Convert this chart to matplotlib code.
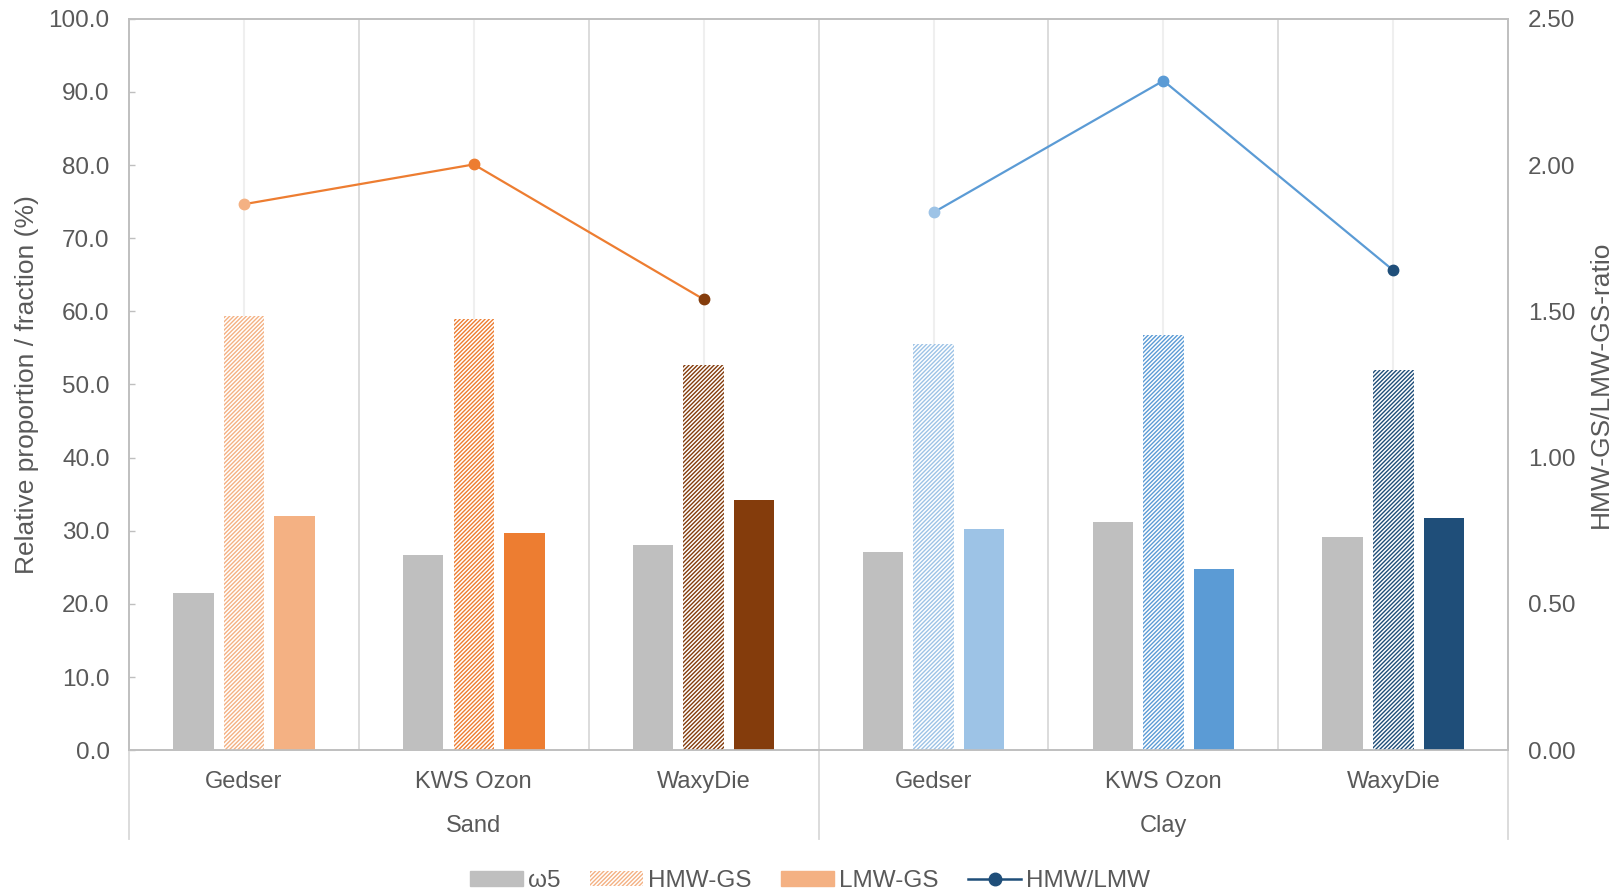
import matplotlib
matplotlib.use('Agg')
import matplotlib.pyplot as plt
from matplotlib.patches import Patch
from matplotlib.lines import Line2D
import matplotlib.transforms as mtransforms

plt.rcParams['font.family'] = ['Liberation Sans', 'DejaVu Sans']
plt.rcParams['hatch.linewidth'] = 1.0

# soil / cultivar data
soils = ['Sand', 'Clay']
cultivars = ['Gedser', 'KWS Ozon', 'WaxyDie']
omega5 = [21.5, 26.7, 28.1, 27.1, 31.2, 29.1]
hmw_gs = [59.4, 59.0, 52.6, 55.6, 56.8, 52.0]
lmw_gs = [32.0, 29.7, 34.2, 30.3, 24.8, 31.8]
ratio = [1.866, 2.002, 1.541, 1.838, 2.288, 1.640]

shades = ['#F4B183', '#ED7D31', '#843C0C', '#9DC3E6', '#5B9BD5', '#1F4E79']
line_cols = ['#ED7D31', '#5B9BD5']
grey = '#BFBFBF'
txt = '#595959'
hatch = '////////'

fig = plt.figure(figsize=(16.2, 8.91), dpi=100)
ax = fig.add_axes([0.0796, 0.158, 0.8514, 0.821])
ax2 = ax.twinx()

x = list(range(len(omega5)))
w, off = 0.176, 0.22
for i in x:
    ax.bar(i - off, omega5[i], w, color=grey, zorder=3)
    ax.bar(i, hmw_gs[i], w, facecolor='white', edgecolor=shades[i],
           hatch=hatch, linewidth=0, zorder=3)
    ax.bar(i + off, lmw_gs[i], w, color=shades[i], zorder=3)

for g in range(2):
    idx = list(range(g * 3, g * 3 + 3))
    ax2.plot(idx, [ratio[k] for k in idx], color=line_cols[g], lw=1.6, zorder=4)
    for k in idx:
        ax2.plot(k, ratio[k], 'o', ms=7.5, color=shades[k], zorder=5)

ax.set_xlim(-0.5, 5.5)
ax.set_ylim(0, 100)
ax2.set_ylim(0, 2.5)
ax.set_yticks(range(0, 101, 10))
ax.set_yticklabels([f'{v:.1f}' for v in range(0, 101, 10)])
ax2.set_yticks([0, 0.5, 1.0, 1.5, 2.0, 2.5])
ax2.set_yticklabels([f'{v:.2f}' for v in [0, 0.5, 1.0, 1.5, 2.0, 2.5]])
ax.set_xticks([])

ax.tick_params(axis='y', direction='in', length=4, width=1, color=grey,
               labelsize=17.5, labelcolor=txt, pad=14)
ax2.tick_params(axis='y', length=0, labelsize=17.5, labelcolor=txt, pad=14)
for a in (ax, ax2):
    for s in a.spines.values():
        s.set_color(grey)
        s.set_linewidth(1.2)

# light centre lines and category separators
for i in x:
    ax.axvline(i, color='#EFEFEF', lw=1.5, zorder=1)
for b in [0.5, 1.5, 2.5, 3.5, 4.5]:
    ax.axvline(b, color='#D9D9D9', lw=1.3, zorder=1)

trans = mtransforms.blended_transform_factory(ax.transData, ax.transAxes)
for b in [-0.5, 2.5, 5.5]:
    ax.plot([b, b], [0, -0.122], transform=trans, color='#D9D9D9', lw=1.3,
            clip_on=False)
for i in x:
    ax.text(i, -0.043, cultivars[i % 3], transform=trans, ha='center',
            va='center', fontsize=17, color=txt)
for g in range(2):
    ax.text(g * 3 + 1, -0.104, soils[g], transform=trans, ha='center',
            va='center', fontsize=17, color=txt)

ax.set_ylabel('Relative proportion / fraction (%)', fontsize=19, color=txt,
              labelpad=7)
ax2.set_ylabel('HMW-GS/LMW-GS-ratio', fontsize=19, color=txt, labelpad=10)

handles = [
    Patch(facecolor=grey, edgecolor=grey),
    Patch(facecolor='white', edgecolor='#F4B183', hatch=hatch, linewidth=0),
    Patch(facecolor='#F4B183', edgecolor='#F4B183'),
    Line2D([], [], color='#1F4E79', marker='o', ms=9, lw=1.8),
]
fig.legend(handles, ['ω5', 'HMW-GS', 'LMW-GS', 'HMW/LMW'], loc='center',
           bbox_to_anchor=(0.5, 0.011), ncol=4, frameon=False, fontsize=17.5,
           labelcolor=txt, handlelength=2.15, handleheight=0.6,
           handletextpad=0.2, columnspacing=1.25)

fig.savefig('out.png', dpi=100)
